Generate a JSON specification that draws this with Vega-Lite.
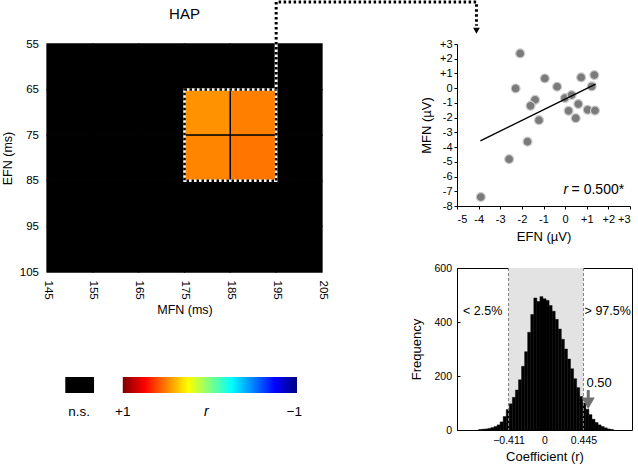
{
  "$schema": "https://vega.github.io/schema/vega-lite/v6.json",
  "background": "white",
  "padding": {"left": 1, "top": 0, "right": 0, "bottom": 0},
  "bounds": "flush",
  "spacing": 410,
  "config": {
    "font": "Liberation Sans",
    "view": {"stroke": null},
    "axis": {
      "grid": false,
      "labelColor": "black",
      "titleColor": "black",
      "titleFontWeight": "normal",
      "domainColor": "black",
      "tickColor": "black"
    }
  },
  "datasets": {
    "cells": [
      {"mfn": 145, "mfn_end": 155, "efn": 55, "efn_end": 65, "r": null, "sig": false},
      {"mfn": 155, "mfn_end": 165, "efn": 55, "efn_end": 65, "r": null, "sig": false},
      {"mfn": 165, "mfn_end": 175, "efn": 55, "efn_end": 65, "r": null, "sig": false},
      {"mfn": 175, "mfn_end": 185, "efn": 55, "efn_end": 65, "r": null, "sig": false},
      {"mfn": 185, "mfn_end": 195, "efn": 55, "efn_end": 65, "r": null, "sig": false},
      {"mfn": 195, "mfn_end": 205, "efn": 55, "efn_end": 65, "r": null, "sig": false},
      {"mfn": 145, "mfn_end": 155, "efn": 65, "efn_end": 75, "r": null, "sig": false},
      {"mfn": 155, "mfn_end": 165, "efn": 65, "efn_end": 75, "r": null, "sig": false},
      {"mfn": 165, "mfn_end": 175, "efn": 65, "efn_end": 75, "r": null, "sig": false},
      {"mfn": 175, "mfn_end": 185, "efn": 65, "efn_end": 75, "r": 0.464, "sig": true},
      {"mfn": 185, "mfn_end": 195, "efn": 65, "efn_end": 75, "r": 0.5, "sig": true},
      {"mfn": 195, "mfn_end": 205, "efn": 65, "efn_end": 75, "r": null, "sig": false},
      {"mfn": 145, "mfn_end": 155, "efn": 75, "efn_end": 85, "r": null, "sig": false},
      {"mfn": 155, "mfn_end": 165, "efn": 75, "efn_end": 85, "r": null, "sig": false},
      {"mfn": 165, "mfn_end": 175, "efn": 75, "efn_end": 85, "r": null, "sig": false},
      {"mfn": 175, "mfn_end": 185, "efn": 75, "efn_end": 85, "r": 0.492, "sig": true},
      {"mfn": 185, "mfn_end": 195, "efn": 75, "efn_end": 85, "r": 0.52, "sig": true},
      {"mfn": 195, "mfn_end": 205, "efn": 75, "efn_end": 85, "r": null, "sig": false},
      {"mfn": 145, "mfn_end": 155, "efn": 85, "efn_end": 95, "r": null, "sig": false},
      {"mfn": 155, "mfn_end": 165, "efn": 85, "efn_end": 95, "r": null, "sig": false},
      {"mfn": 165, "mfn_end": 175, "efn": 85, "efn_end": 95, "r": null, "sig": false},
      {"mfn": 175, "mfn_end": 185, "efn": 85, "efn_end": 95, "r": null, "sig": false},
      {"mfn": 185, "mfn_end": 195, "efn": 85, "efn_end": 95, "r": null, "sig": false},
      {"mfn": 195, "mfn_end": 205, "efn": 85, "efn_end": 95, "r": null, "sig": false},
      {"mfn": 145, "mfn_end": 155, "efn": 95, "efn_end": 105, "r": null, "sig": false},
      {"mfn": 155, "mfn_end": 165, "efn": 95, "efn_end": 105, "r": null, "sig": false},
      {"mfn": 165, "mfn_end": 175, "efn": 95, "efn_end": 105, "r": null, "sig": false},
      {"mfn": 175, "mfn_end": 185, "efn": 95, "efn_end": 105, "r": null, "sig": false},
      {"mfn": 185, "mfn_end": 195, "efn": 95, "efn_end": 105, "r": null, "sig": false},
      {"mfn": 195, "mfn_end": 205, "efn": 95, "efn_end": 105, "r": null, "sig": false}
    ],
    "connector": [
      {"step": 1, "mfn": 195, "efn": 65},
      {"step": 2, "mfn": 195, "efn": 45.8},
      {"step": 3, "mfn": 238.7, "efn": 45.8},
      {"step": 4, "mfn": 238.7, "efn": 51}
    ],
    "subjects": [
      {"efn": -2.08, "mfn": 2.36},
      {"efn": -2.29, "mfn": -0.02},
      {"efn": -0.94, "mfn": 0.66},
      {"efn": -0.37, "mfn": 0.1},
      {"efn": -1.39, "mfn": -0.79},
      {"efn": -1.6, "mfn": -1.2},
      {"efn": -1.21, "mfn": -2.17},
      {"efn": -1.74, "mfn": -3.63},
      {"efn": -2.59, "mfn": -4.82},
      {"efn": -3.9, "mfn": -7.39},
      {"efn": -0.01, "mfn": -0.67},
      {"efn": 0.3, "mfn": -0.47},
      {"efn": 0.61, "mfn": -1.08},
      {"efn": 0.16, "mfn": -1.54},
      {"efn": 0.49, "mfn": -2.04},
      {"efn": 0.74, "mfn": 0.73},
      {"efn": 1.35, "mfn": 0.89},
      {"efn": 1.23, "mfn": 0.12},
      {"efn": 1.04, "mfn": -1.47},
      {"efn": 1.38, "mfn": -1.52}
    ],
    "hist": [
      {"coef": -0.7525, "coef_end": -0.7175, "freq": 2},
      {"coef": -0.7175, "coef_end": -0.6825, "freq": 3},
      {"coef": -0.6825, "coef_end": -0.6475, "freq": 4},
      {"coef": -0.6475, "coef_end": -0.6125, "freq": 6},
      {"coef": -0.6125, "coef_end": -0.5775, "freq": 9},
      {"coef": -0.5775, "coef_end": -0.5425, "freq": 13},
      {"coef": -0.5425, "coef_end": -0.5075, "freq": 19},
      {"coef": -0.5075, "coef_end": -0.4725, "freq": 30},
      {"coef": -0.4725, "coef_end": -0.4375, "freq": 50},
      {"coef": -0.4375, "coef_end": -0.4025, "freq": 76},
      {"coef": -0.4025, "coef_end": -0.3675, "freq": 97},
      {"coef": -0.3675, "coef_end": -0.3325, "freq": 121},
      {"coef": -0.3325, "coef_end": -0.2975, "freq": 148},
      {"coef": -0.2975, "coef_end": -0.2625, "freq": 186},
      {"coef": -0.2625, "coef_end": -0.2275, "freq": 236},
      {"coef": -0.2275, "coef_end": -0.1925, "freq": 290},
      {"coef": -0.1925, "coef_end": -0.1575, "freq": 362},
      {"coef": -0.1575, "coef_end": -0.1225, "freq": 428},
      {"coef": -0.1225, "coef_end": -0.0875, "freq": 489},
      {"coef": -0.0875, "coef_end": -0.0525, "freq": 476},
      {"coef": -0.0525, "coef_end": -0.0175, "freq": 494},
      {"coef": -0.0175, "coef_end": 0.0175, "freq": 486},
      {"coef": 0.0175, "coef_end": 0.0525, "freq": 480},
      {"coef": 0.0525, "coef_end": 0.0875, "freq": 461},
      {"coef": 0.0875, "coef_end": 0.1225, "freq": 440},
      {"coef": 0.1225, "coef_end": 0.1575, "freq": 410},
      {"coef": 0.1575, "coef_end": 0.1925, "freq": 374},
      {"coef": 0.1925, "coef_end": 0.2275, "freq": 336},
      {"coef": 0.2275, "coef_end": 0.2625, "freq": 300},
      {"coef": 0.2625, "coef_end": 0.2975, "freq": 263},
      {"coef": 0.2975, "coef_end": 0.3325, "freq": 227},
      {"coef": 0.3325, "coef_end": 0.3675, "freq": 190},
      {"coef": 0.3675, "coef_end": 0.4025, "freq": 157},
      {"coef": 0.4025, "coef_end": 0.4375, "freq": 124},
      {"coef": 0.4375, "coef_end": 0.4725, "freq": 100},
      {"coef": 0.4725, "coef_end": 0.5075, "freq": 77},
      {"coef": 0.5075, "coef_end": 0.5425, "freq": 57},
      {"coef": 0.5425, "coef_end": 0.5775, "freq": 40},
      {"coef": 0.5775, "coef_end": 0.6125, "freq": 28},
      {"coef": 0.6125, "coef_end": 0.6475, "freq": 19},
      {"coef": 0.6475, "coef_end": 0.6825, "freq": 13},
      {"coef": 0.6825, "coef_end": 0.7175, "freq": 8},
      {"coef": 0.7175, "coef_end": 0.7525, "freq": 4},
      {"coef": 0.7525, "coef_end": 0.7875, "freq": 2}
    ]
  },
  "hconcat": [
    {
      "bounds": "flush",
      "spacing": 105,
      "vconcat": [
        {
          "width": 275,
          "height": 228,
          "encoding": {
            "x": {
              "field": "mfn", "type": "quantitative",
              "scale": {"domain": [145, 205], "nice": false, "zero": false},
              "axis": {"values": [145, 155, 165, 175, 185, 195, 205], "labelAngle": 90, "ticks": false, "tickSize": 0, "domain": false, "labelPadding": 8, "labelFontSize": 11.5, "titleFontSize": 12.5, "titlePadding": 4},
              "title": "MFN (ms)"
            },
            "y": {
              "field": "efn", "type": "quantitative",
              "scale": {"domain": [55, 105], "nice": false, "zero": false, "reverse": true},
              "axis": {"values": [55, 65, 75, 85, 95, 105], "ticks": false, "tickSize": 0, "domain": false, "labelPadding": 8.5, "labelFontSize": 11.5, "titleFontSize": 12.5, "titlePadding": 5},
              "title": "EFN (ms)"
            }
          },
          "layer": [
            {
              "data": {"name": "cells"},
              "transform": [{"filter": "!datum.sig"}],
              "mark": {"type": "rect", "color": "black", "stroke": "black", "strokeWidth": 1.3},
              "encoding": {
                "x2": {"field": "mfn_end"},
                "y2": {"field": "efn_end"}
              }
            },
            {
              "data": {"name": "cells"},
              "transform": [{"filter": "datum.sig"}],
              "mark": {"type": "rect", "stroke": "black", "strokeWidth": 1.3},
              "encoding": {
                "x2": {"field": "mfn_end"},
                "y2": {"field": "efn_end"},
                "color": {
                  "field": "r", "type": "quantitative",
                  "scale": {"domain": [-1, -0.75, -0.25, 0.25, 0.75, 1], "range": ["#00007f", "#0000ff", "#00ffff", "#ffff00", "#ff0000", "#7f0000"], "interpolate": "rgb"},
                  "legend": null
                }
              }
            },
            {
              "data": {"values": [{"mfn": 175, "mfn_end": 195, "efn": 65, "efn_end": 85}]},
              "mark": {"type": "rect", "filled": false, "stroke": "white", "strokeWidth": 2.5},
              "encoding": {"x2": {"field": "mfn_end"}, "y2": {"field": "efn_end"}}
            },
            {
              "data": {"values": [{"mfn": 175, "mfn_end": 195, "efn": 65, "efn_end": 85}]},
              "mark": {"type": "rect", "filled": false, "stroke": "black", "strokeWidth": 2.5, "strokeDash": [2.5, 2.5]},
              "encoding": {"x2": {"field": "mfn_end"}, "y2": {"field": "efn_end"}}
            },
            {
              "data": {"name": "connector"},
              "mark": {"type": "line", "color": "white", "strokeWidth": 3, "strokeCap": "butt", "strokeJoin": "bevel"},
              "encoding": {"order": {"field": "step"}}
            },
            {
              "data": {"name": "connector"},
              "mark": {"type": "line", "color": "black", "strokeWidth": 3, "strokeDash": [2.5, 2.5], "strokeCap": "butt", "strokeJoin": "bevel"},
              "encoding": {"order": {"field": "step"}}
            },
            {
              "data": {"values": [{"mfn": 238.7, "efn": 52.1}]},
              "mark": {"type": "point", "shape": "triangle-down", "filled": true, "color": "black", "size": 45, "opacity": 1}
            },
            {
              "data": {"values": [{"mfn": 175, "efn": 49.5, "label": "HAP"}]},
              "mark": {"type": "text", "fontSize": 15, "baseline": "alphabetic", "align": "center", "color": "black"},
              "encoding": {"text": {"field": "label"}}
            }
          ]
        },
        {
          "width": 250,
          "height": 16,
          "encoding": {
            "x": {"field": "from", "type": "quantitative", "scale": {"domain": [-1, 1.87], "reverse": true, "nice": false, "zero": false}, "axis": null}
          },
          "layer": [
            {
              "data": {"values": [{"from": 1.66, "to": 1.33}]},
              "mark": {"type": "rect", "color": "black"},
              "encoding": {"x2": {"field": "to"}}
            },
            {
              "data": {"values": [{"from": 1, "to": -1}]},
              "mark": {
                "type": "rect",
                "color": {
                  "gradient": "linear", "x1": 0, "y1": 0, "x2": 1, "y2": 0,
                  "stops": [
                    {"offset": 0, "color": "#7f0000"},
                    {"offset": 0.125, "color": "#ff0000"},
                    {"offset": 0.375, "color": "#ffff00"},
                    {"offset": 0.625, "color": "#00ffff"},
                    {"offset": 0.875, "color": "#0000ff"},
                    {"offset": 1, "color": "#00007f"}
                  ]
                }
              },
              "encoding": {"x2": {"field": "to"}}
            },
            {
              "data": {"values": [{"from": 1.5, "label": "n.s."}, {"from": 1, "label": "+1"}, {"from": -0.97, "label": "−1"}]},
              "mark": {"type": "text", "fontSize": 13.5, "baseline": "alphabetic", "dy": 30.7, "color": "black"},
              "encoding": {"text": {"field": "label"}}
            },
            {
              "data": {"values": [{"from": 0.04, "label": "r"}]},
              "mark": {"type": "text", "fontSize": 14, "fontStyle": "italic", "baseline": "alphabetic", "dy": 30.7, "color": "black"},
              "encoding": {"text": {"field": "label"}}
            }
          ]
        }
      ]
    },
    {
      "bounds": "flush",
      "spacing": 62,
      "vconcat": [
        {
          "width": 173,
          "height": 162,
          "encoding": {
            "x": {
              "field": "efn", "type": "quantitative",
              "scale": {"domain": [-5, 3], "nice": false, "zero": false},
              "axis": {"values": [-5, -4, -3, -2, -1, 0, 1, 2, 3], "labelExpr": "datum.value > 0 ? '+' + datum.value : '' + datum.value", "tickSize": 3, "labelPadding": 4, "labelFontSize": 11, "titleFontSize": 13, "titlePadding": 6},
              "title": "EFN (µV)"
            },
            "y": {
              "field": "mfn", "type": "quantitative",
              "scale": {"domain": [-8, 3], "nice": false, "zero": false},
              "axis": {"values": [-8, -7, -6, -5, -4, -3, -2, -1, 0, 1, 2, 3], "labelExpr": "datum.value > 0 ? '+' + datum.value : '' + datum.value", "tickSize": 3, "labelPadding": 2, "labelFontSize": 11, "titleFontSize": 13, "titlePadding": 6},
              "title": "MFN (µV)"
            }
          },
          "layer": [
            {
              "data": {"name": "subjects"},
              "mark": {"type": "circle", "size": 80, "fill": "#7b7b7b", "stroke": "#cccccc", "strokeWidth": 1.2, "opacity": 1}
            },
            {
              "data": {"values": [{"efn": -3.92, "mfn": -3.58}, {"efn": 1.41, "mfn": 0.28}]},
              "mark": {"type": "line", "color": "black", "strokeWidth": 1.5}
            },
            {
              "data": {"values": [{"efn": 0.14, "mfn": -7.2, "label": "r"}]},
              "mark": {"type": "text", "fontSize": 14, "fontStyle": "italic", "align": "right", "baseline": "alphabetic", "color": "black"},
              "encoding": {"text": {"field": "label"}}
            },
            {
              "data": {"values": [{"efn": 0.3, "mfn": -7.2, "label": "= 0.500*"}]},
              "mark": {"type": "text", "fontSize": 14, "align": "left", "baseline": "alphabetic", "color": "black"},
              "encoding": {"text": {"field": "label"}}
            }
          ]
        },
        {
          "width": 175,
          "height": 162,
          "view": {"stroke": "black", "strokeWidth": 1},
          "encoding": {
            "x": {
              "field": "coef", "type": "quantitative",
              "scale": {"domain": [-1, 1], "nice": false, "zero": false},
              "axis": {"values": [-0.411, 0, 0.445], "labelExpr": "datum.value == 0 ? '0' : format(datum.value, '.3f')", "ticks": false, "tickSize": 0, "domain": false, "labelPadding": 5, "labelFontSize": 10.5, "titleFontSize": 13, "titlePadding": 5},
              "title": "Coefficient (r)"
            }
          },
          "layer": [
            {
              "data": {"values": [{"coef": -0.411, "coef_end": 0.445}]},
              "mark": {"type": "rect", "color": "#e3e3e3"},
              "encoding": {"x2": {"field": "coef_end"}}
            },
            {
              "data": {"name": "hist"},
              "mark": {"type": "rect", "color": "black", "stroke": "black", "strokeWidth": 0.4},
              "encoding": {
                "x2": {"field": "coef_end"},
                "y": {
                  "field": "freq", "type": "quantitative",
                  "scale": {"domain": [0, 600], "nice": false},
                  "axis": {"values": [0, 100, 200, 300, 400, 500, 600], "tickSize": -3, "labelPadding": 8.5, "domain": false, "labelFontSize": 10.5, "titleFontSize": 13, "titlePadding": 10},
                  "title": "Frequency"
                },
                "y2": {"datum": 0}
              }
            },
            {
              "data": {"values": [{"coef": -0.411}, {"coef": 0.445}]},
              "mark": {"type": "rule", "color": "#808080", "strokeWidth": 1, "strokeDash": [3, 2]},
              "encoding": {}
            },
            {
              "data": {"values": [{"coef": -0.706, "freq": 440, "label": "< 2.5%"}, {"coef": 0.7225, "freq": 440, "label": "> 97.5%"}]},
              "mark": {"type": "text", "fontSize": 12.5, "baseline": "middle", "color": "black"},
              "encoding": {
                "y": {"field": "freq", "type": "quantitative", "title": "Frequency"},
                "text": {"field": "label"}
              }
            },
            {
              "data": {"values": [{"coef": 0.5, "freq": 148, "freq_end": 112}]},
              "mark": {"type": "rule", "color": "#707070", "strokeWidth": 3},
              "encoding": {
                "y": {"field": "freq", "type": "quantitative", "title": "Frequency"},
                "y2": {"field": "freq_end"}
              }
            },
            {
              "data": {"values": [{"coef": 0.5, "freq": 99}]},
              "mark": {"type": "point", "shape": "triangle-down", "filled": true, "color": "#707070", "size": 170, "opacity": 1},
              "encoding": {
                "y": {"field": "freq", "type": "quantitative", "title": "Frequency"}
              }
            },
            {
              "data": {"values": [{"coef": 0.479, "freq": 175, "label": "0.50"}]},
              "mark": {"type": "text", "fontSize": 13, "align": "left", "baseline": "middle", "color": "black"},
              "encoding": {
                "y": {"field": "freq", "type": "quantitative", "title": "Frequency"},
                "text": {"field": "label"}
              }
            }
          ]
        }
      ]
    }
  ]
}
